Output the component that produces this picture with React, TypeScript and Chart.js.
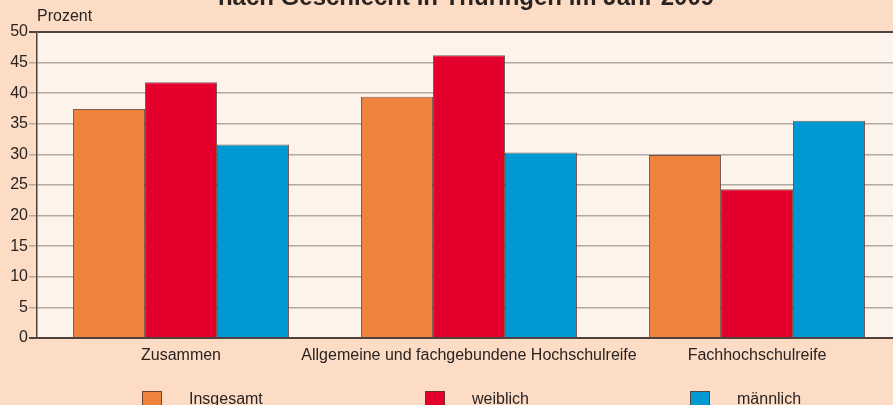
import React, { useEffect, useRef } from "react";
import { Chart, registerables } from "chart.js";

Chart.register(...registerables);

const TITLE = "nach Geschlecht in Thüringen im Jahr 2009";
const Y_LABEL = "Prozent";
const categories = ["Zusammen", "Allgemeine und fachgebundene Hochschulreife", "Fachhochschulreife"];
const seriesNames = ["Insgesamt", "weiblich", "männlich"];
const insgesamt = [37.4, 39.4, 29.9];
const weiblich = [41.8, 46.2, 24.3];
const maennlich = [31.6, 30.3, 35.5];
const seriesColors = ["#EF823C", "#E3002D", "#0099D4"];
const Y_MIN = 0;
const Y_MAX = 50;
const Y_STEP = 5;

const FONT = "'Liberation Sans', Arial, sans-serif";
const PAGE_BG = "#FCDCC4";
const PLOT_BG = "#FEF3EA";
const TEXT = "#2a2322";
const DARK = "#4f423c";
const GRID = "#b3a9a4";

const decorPlugin = {
  id: "decor",
  beforeDraw(chart: any) {
    const { ctx, chartArea } = chart;
    ctx.save();
    ctx.fillStyle = PAGE_BG;
    ctx.fillRect(0, 0, chart.width, chart.height);
    ctx.fillStyle = PLOT_BG;
    ctx.fillRect(chartArea.left, chartArea.top, chartArea.right - chartArea.left, chartArea.bottom - chartArea.top);
    ctx.restore();
  },
  afterDraw(chart: any) {
    const { ctx, chartArea } = chart;
    ctx.save();
    // title (partly cut off at the top)
    ctx.fillStyle = TEXT;
    ctx.font = `bold 24px ${FONT}`;
    ctx.textAlign = "center";
    ctx.textBaseline = "alphabetic";
    ctx.fillText(TITLE, 466, 5);
    // y unit label
    ctx.font = `16px ${FONT}`;
    ctx.textAlign = "left";
    ctx.textBaseline = "middle";
    ctx.fillText(Y_LABEL, chartArea.left, 17);
    // legend
    const xs = [142, 425, 690];
    seriesNames.forEach((name, i) => {
      const x = xs[i];
      ctx.fillStyle = seriesColors[i];
      ctx.fillRect(x, 391, 20, 20);
      ctx.strokeStyle = "rgba(90,55,45,0.85)";
      ctx.lineWidth = 1;
      ctx.strokeRect(x + 0.5, 391.5, 19, 19);
      ctx.fillStyle = TEXT;
      ctx.fillText(name, x + 47, 400);
    });
    ctx.restore();
  },
};

export default function App() {
  const ref = useRef<HTMLCanvasElement | null>(null);

  useEffect(() => {
    document.body.style.margin = "0";
    document.body.style.background = PAGE_BG;
    document.body.style.overflow = "hidden";
    const canvas = ref.current;
    if (!canvas) return;
    const lineColor = (c: any) => {
      const v = c.tick ? c.tick.value : null;
      return v === Y_MIN || v === Y_MAX ? DARK : GRID;
    };
    const chart = new Chart(canvas, {
      type: "bar",
      data: {
        labels: categories,
        datasets: [
          { label: seriesNames[0], data: insgesamt, backgroundColor: seriesColors[0] },
          { label: seriesNames[1], data: weiblich, backgroundColor: seriesColors[1] },
          { label: seriesNames[2], data: maennlich, backgroundColor: seriesColors[2] },
        ].map((d) => ({
          ...d,
          borderColor: "rgba(90,55,45,0.8)",
          borderWidth: 1,
          categoryPercentage: 0.75,
          barPercentage: 1,
        })),
      },
      options: {
        responsive: false,
        animation: false,
        devicePixelRatio: 1,
        layout: { padding: { top: 32, right: 2, left: 0, bottom: 0 } },
        plugins: {
          legend: { display: false },
          title: { display: false },
          tooltip: { enabled: false },
        },
        scales: {
          x: {
            grid: { display: false, drawTicks: false },
            border: { display: true, color: DARK, width: 1.5 },
            ticks: {
              color: TEXT,
              font: { family: FONT, size: 16 },
              padding: 8,
              maxRotation: 0,
              autoSkip: false,
            },
            afterFit: (s: any) => {
              s.height = 67;
            },
          },
          y: {
            min: Y_MIN,
            max: Y_MAX,
            ticks: {
              stepSize: Y_STEP,
              color: TEXT,
              font: { family: FONT, size: 16 },
              padding: 1,
            },
            grid: {
              color: lineColor,
              tickColor: lineColor,
              lineWidth: (c: any) => (c.tick && (c.tick.value === Y_MIN || c.tick.value === Y_MAX) ? 2 : 1.5),
              tickLength: 8,
            },
            border: { display: true, color: DARK, width: 1.5 },
            afterFit: (s: any) => {
              s.width = 37;
            },
          },
        },
      },
      plugins: [decorPlugin],
    });
    return () => chart.destroy();
  }, []);

  return (
    <div style={{ width: 893, height: 405, overflow: "hidden", position: "relative", background: PAGE_BG }}>
      <canvas ref={ref} width={903} height={405} style={{ display: "block", width: 903, height: 405 }} />
    </div>
  );
}
